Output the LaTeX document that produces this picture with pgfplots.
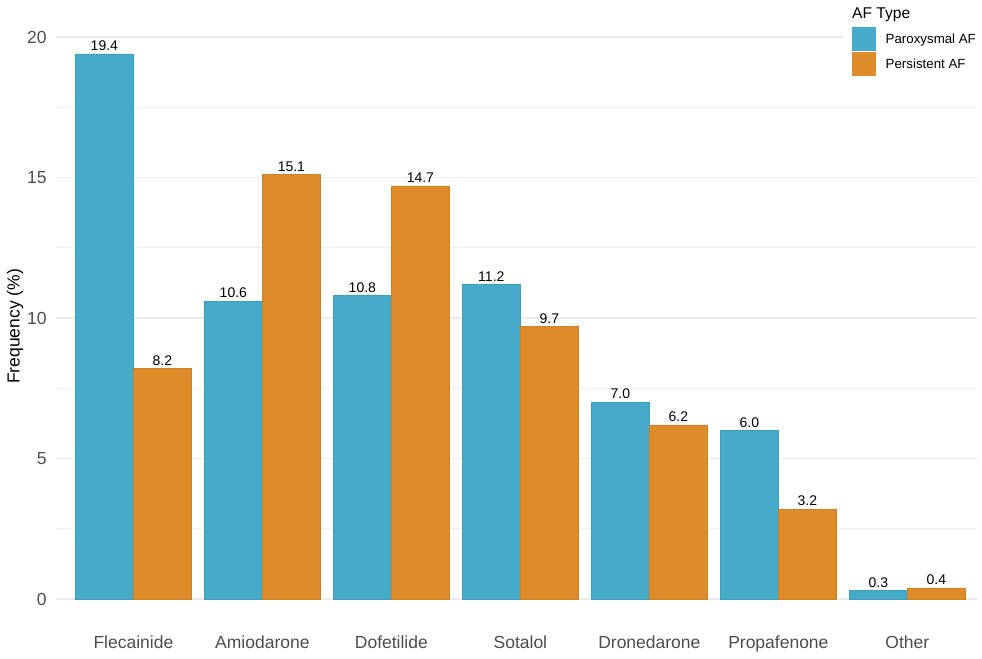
\documentclass[border=0pt]{standalone}
\usepackage{pgfplots}
\pgfplotsset{compat=1.18}
\usepackage{fontspec}
\setmainfont{Liberation Sans}
\definecolor{cblue}{HTML}{46ABC9}
\definecolor{corange}{HTML}{DE8B2A}
\definecolor{tickgrey}{HTML}{4D4D4D}
\definecolor{gridgrey}{HTML}{EBEBEB}
\begin{document}
\begin{tikzpicture}
\begin{axis}[
  at={(56bp,-26.6bp)}, anchor=north west,
  scale only axis, width=921bp, height=599.7bp,
  xmin=0.4, xmax=7.54, ymin=-0.97, ymax=20.37,
  ybar=0pt, bar width=0.45,
  axis line style={draw=none}, tick style={draw=none},
  major tick length=0pt,
  xtick={1,2,3,4,5,6,7},
  xticklabels={Flecainide,Amiodarone,Dofetilide,Sotalol,Dronedarone,Propafenone,Other},
  ytick={0,5,10,15,20}, minor ytick={2.5,7.5,12.5,17.5},
  ymajorgrids, yminorgrids,
  major grid style={draw=gridgrey, line width=1.1bp},
  minor grid style={draw=gridgrey!70, line width=0.6bp},
  /pgf/number format/assume math mode=true,
  ticklabel style={font=\fontsize{17.5bp}{20bp}\selectfont, text=tickgrey},
  yticklabel style={anchor=east, inner sep=0pt, xshift=-9.3bp},
  xticklabel style={anchor=north, inner sep=0pt, yshift=-9bp},
  ylabel={Frequency (\%)},
  ylabel style={at={(axis description cs:-0.0445,0.5)}, anchor=center, font=\fontsize{17.5bp}{20bp}\selectfont},
  nodes near coords={\pgfmathprintnumber[fixed,fixed zerofill,precision=1]{\pgfplotspointmeta}},
  nodes near coords style={font=\fontsize{14bp}{16bp}\selectfont, anchor=south, inner sep=0pt, yshift=3bp, text=black},
  legend style={at={(axis description cs:0.8545,0.9993)}, anchor=north west, draw=none, fill=white,
    inner xsep=9bp, inner ysep=0pt, row sep=1.5bp, column sep=10bp,
    font=\fontsize{13.3bp}{15bp}\selectfont,
    nodes={inner sep=0pt, anchor=west}},
  legend cell align=left,
]
\addplot[fill=cblue, draw=cblue!92!black, line width=0.5bp,
  legend image code/.code={\fill[cblue] (0bp,-11.5bp) rectangle (23bp,11.5bp);}]
  coordinates {(1,19.4) (2,10.6) (3,10.8) (4,11.2) (5,7.0) (6,6.0) (7,0.3)};
\addplot[fill=corange, draw=corange!92!black, line width=0.5bp,
  legend image code/.code={\fill[corange] (0bp,-11.5bp) rectangle (23bp,11.5bp);}]
  coordinates {(1,8.2) (2,15.1) (3,14.7) (4,9.7) (5,6.2) (6,3.2) (7,0.4)};
\addlegendentry{Paroxysmal AF}
\addlegendentry{Persistent AF}
\end{axis}
\node[anchor=base west, inner sep=0pt, font=\fontsize{15.6bp}{18bp}\selectfont] at (852bp,-18.3bp) {AF Type};
\pgfresetboundingbox
\path[use as bounding box] (0,0) rectangle (982bp,-659bp);
\end{tikzpicture}
\end{document}
